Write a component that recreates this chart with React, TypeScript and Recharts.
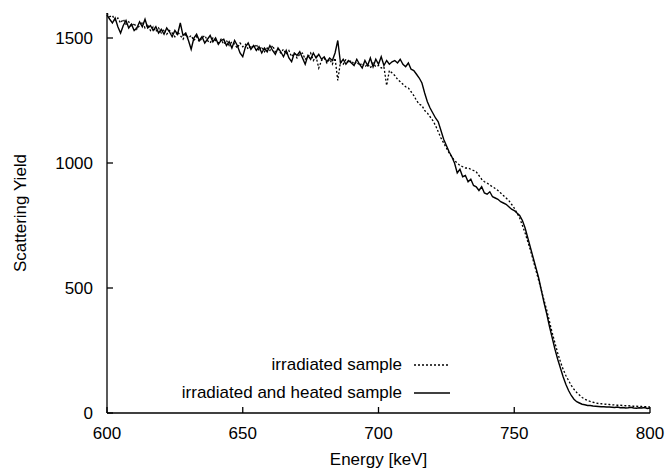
import { LineChart, Line, XAxis, YAxis, Legend } from "recharts";

// energy channels, 1 keV apart
const startEnergy = 600;
const energyStep = 1;

const xTicks = [600, 650, 700, 750, 800];
const yTicks = [0, 500, 1000, 1500];

// irradiated sample (dotted)
const irradiated = [
  1600, 1585, 1590, 1570, 1580, 1560, 1575, 1555, 1565, 1545,
  1560, 1535, 1550, 1565, 1540, 1555, 1530, 1545, 1525, 1540,
  1520, 1535, 1515, 1530, 1520, 1505, 1525, 1510, 1495, 1515,
  1500, 1510, 1490, 1505, 1485, 1500, 1510, 1490, 1480, 1500,
  1490, 1480, 1495, 1475, 1490, 1470, 1485, 1475, 1460, 1480,
  1465, 1475, 1455, 1470, 1460, 1475, 1450, 1465, 1445, 1460,
  1450, 1470, 1445, 1455, 1440, 1455, 1435, 1450, 1425, 1440,
  1420, 1435, 1440, 1415, 1425, 1440, 1410, 1425, 1380, 1410,
  1420, 1400, 1415, 1395, 1420, 1330, 1405, 1395, 1415, 1400,
  1410, 1395, 1405, 1390, 1400, 1385, 1395, 1380, 1400, 1385,
  1390, 1380, 1385, 1310, 1370, 1360, 1350, 1335, 1325, 1315,
  1305, 1300, 1285, 1270, 1250, 1235, 1230, 1210, 1200, 1185,
  1170, 1150, 1125, 1100, 1080, 1060, 1040, 1025, 1010, 1000,
  990, 985, 980, 980, 975, 970, 965, 950, 935, 925,
  920, 912, 905, 898, 890, 880, 870, 860, 850, 835,
  820, 800, 780, 750, 720, 685, 650, 610, 570, 530,
  490, 450, 410, 365, 320, 280, 240, 205, 175, 150,
  130, 110, 95, 82, 72, 62, 55, 50, 46, 43,
  40, 38, 37, 36, 35, 34, 33, 32, 31, 31,
  30, 29, 29, 28, 27, 27, 26, 26, 25, 25,
  24,
];

// irradiated and heated sample (solid)
const heated = [
  1592, 1575, 1560, 1580, 1545, 1520, 1550, 1570, 1540, 1555,
  1530, 1540, 1565, 1545, 1575, 1540, 1550, 1530, 1545, 1520,
  1535, 1515, 1540, 1525, 1505, 1530, 1515, 1560, 1510, 1520,
  1490, 1455, 1500, 1515, 1490, 1505, 1480, 1495, 1510, 1485,
  1500, 1475, 1490, 1495, 1470, 1485, 1460, 1490, 1470, 1440,
  1425, 1465, 1480, 1455, 1470, 1450, 1465, 1440, 1460, 1445,
  1470, 1450, 1435, 1460, 1445, 1425, 1450, 1420, 1405, 1440,
  1430, 1445, 1420, 1395, 1430, 1415, 1440, 1420, 1435, 1415,
  1425, 1405, 1420, 1410, 1440, 1490, 1400, 1415, 1395, 1410,
  1400, 1390, 1415, 1395, 1380, 1410, 1390, 1420, 1385, 1415,
  1395, 1425, 1390, 1410, 1395, 1405, 1410, 1400, 1415, 1395,
  1385, 1400, 1375, 1370, 1355, 1340, 1320, 1280, 1245, 1220,
  1200, 1180, 1165, 1130, 1095, 1070, 1045, 1025, 1000, 960,
  975, 945, 950, 925, 935, 910, 905, 890, 905, 880,
  875, 885, 865, 860, 855, 845, 840, 835, 825, 815,
  810, 800, 790, 770, 740, 700, 660, 620, 580, 540,
  490, 440, 395, 345, 300, 255, 215, 180, 145, 115,
  90, 70, 55, 45, 40, 35, 33, 30, 30, 28,
  27, 26, 25, 25, 24, 24, 23, 22, 24, 21,
  22, 20, 21, 23, 20, 19, 21, 20, 22, 18,
  20,
];

const legendItems = [
  { label: "irradiated sample", dash: "2 2" },
  { label: "irradiated and heated sample", dash: undefined },
];

const data = heated.map((h, i) => ({
  energy: startEnergy + i * energyStep,
  irradiated: irradiated[i],
  heated: h,
}));

const FONT = "'Liberation Sans', Arial, Helvetica, sans-serif";
const tickStyle = { fill: "#000", fontSize: 17, fontFamily: FONT };

function XTitle({ viewBox }: any) {
  const cx = viewBox.x + viewBox.width / 2;
  return (
    <text x={cx} y={465} textAnchor="middle" fontSize={17} fontFamily={FONT} fill="#000">
      Energy [keV]
    </text>
  );
}

function YTitle({ viewBox }: any) {
  const cy = viewBox.y + viewBox.height / 2;
  return (
    <text
      x={20}
      y={cy}
      transform={`rotate(-90 20 ${cy})`}
      textAnchor="middle"
      dominantBaseline="central"
      fontSize={17}
      fontFamily={FONT}
      fill="#000"
    >
      Scattering Yield
    </text>
  );
}

function renderLegend() {
  return (
    <div style={{ fontFamily: FONT, fontSize: 17, color: "#000" }}>
      {legendItems.map((item) => (
        <div
          key={item.label}
          style={{ display: "flex", alignItems: "center", justifyContent: "flex-end", height: 28 }}
        >
          <span>{item.label}</span>
          <svg width={48} height={10} style={{ marginLeft: 10 }}>
            <line x1={2} y1={5} x2={38} y2={5} stroke="#000" strokeWidth={1.3} strokeDasharray={item.dash} />
          </svg>
        </div>
      ))}
    </div>
  );
}

export default function App() {
  return (
    <div style={{ position: "absolute", left: 0, top: 0, background: "#fff" }}>
      <LineChart
        width={670}
        height={470}
        data={data}
        margin={{ top: 13, right: 20, bottom: 0, left: 47 }}
        style={{ fontFamily: FONT }}
      >
        <XAxis
          dataKey="energy"
          type="number"
          domain={[600, 800]}
          ticks={xTicks}
          height={57}
          tickSize={-6}
          tickMargin={20}
          tick={tickStyle}
          stroke="#000"
          strokeWidth={1.3}
          label={<XTitle />}
        />
        <XAxis
          xAxisId="top"
          orientation="top"
          dataKey="energy"
          type="number"
          domain={[600, 800]}
          ticks={xTicks}
          height={0}
          tickSize={-6}
          tick={false}
          stroke="#000"
          strokeWidth={1.3}
        />
        <YAxis
          domain={[0, 1600]}
          ticks={yTicks}
          width={60}
          tickSize={-6}
          tickMargin={20}
          tick={tickStyle}
          stroke="#000"
          strokeWidth={1.3}
          allowDataOverflow
          label={<YTitle />}
        />
        <YAxis
          yAxisId="right"
          orientation="right"
          domain={[0, 1600]}
          ticks={yTicks}
          width={0}
          tickSize={-6}
          tick={false}
          stroke="#000"
          strokeWidth={1.3}
        />
        <Legend
          layout="vertical"
          align="center"
          verticalAlign="middle"
          content={renderLegend}
          wrapperStyle={{ position: "absolute", left: 100, top: 351, width: 360 }}
        />
        <Line
          dataKey="irradiated"
          type="linear"
          stroke="#000"
          strokeWidth={1.3}
          strokeDasharray="2 2"
          dot={false}
          isAnimationActive={false}
        />
        <Line
          dataKey="heated"
          type="linear"
          stroke="#000"
          strokeWidth={1.4}
          dot={false}
          isAnimationActive={false}
        />
      </LineChart>
    </div>
  );
}
